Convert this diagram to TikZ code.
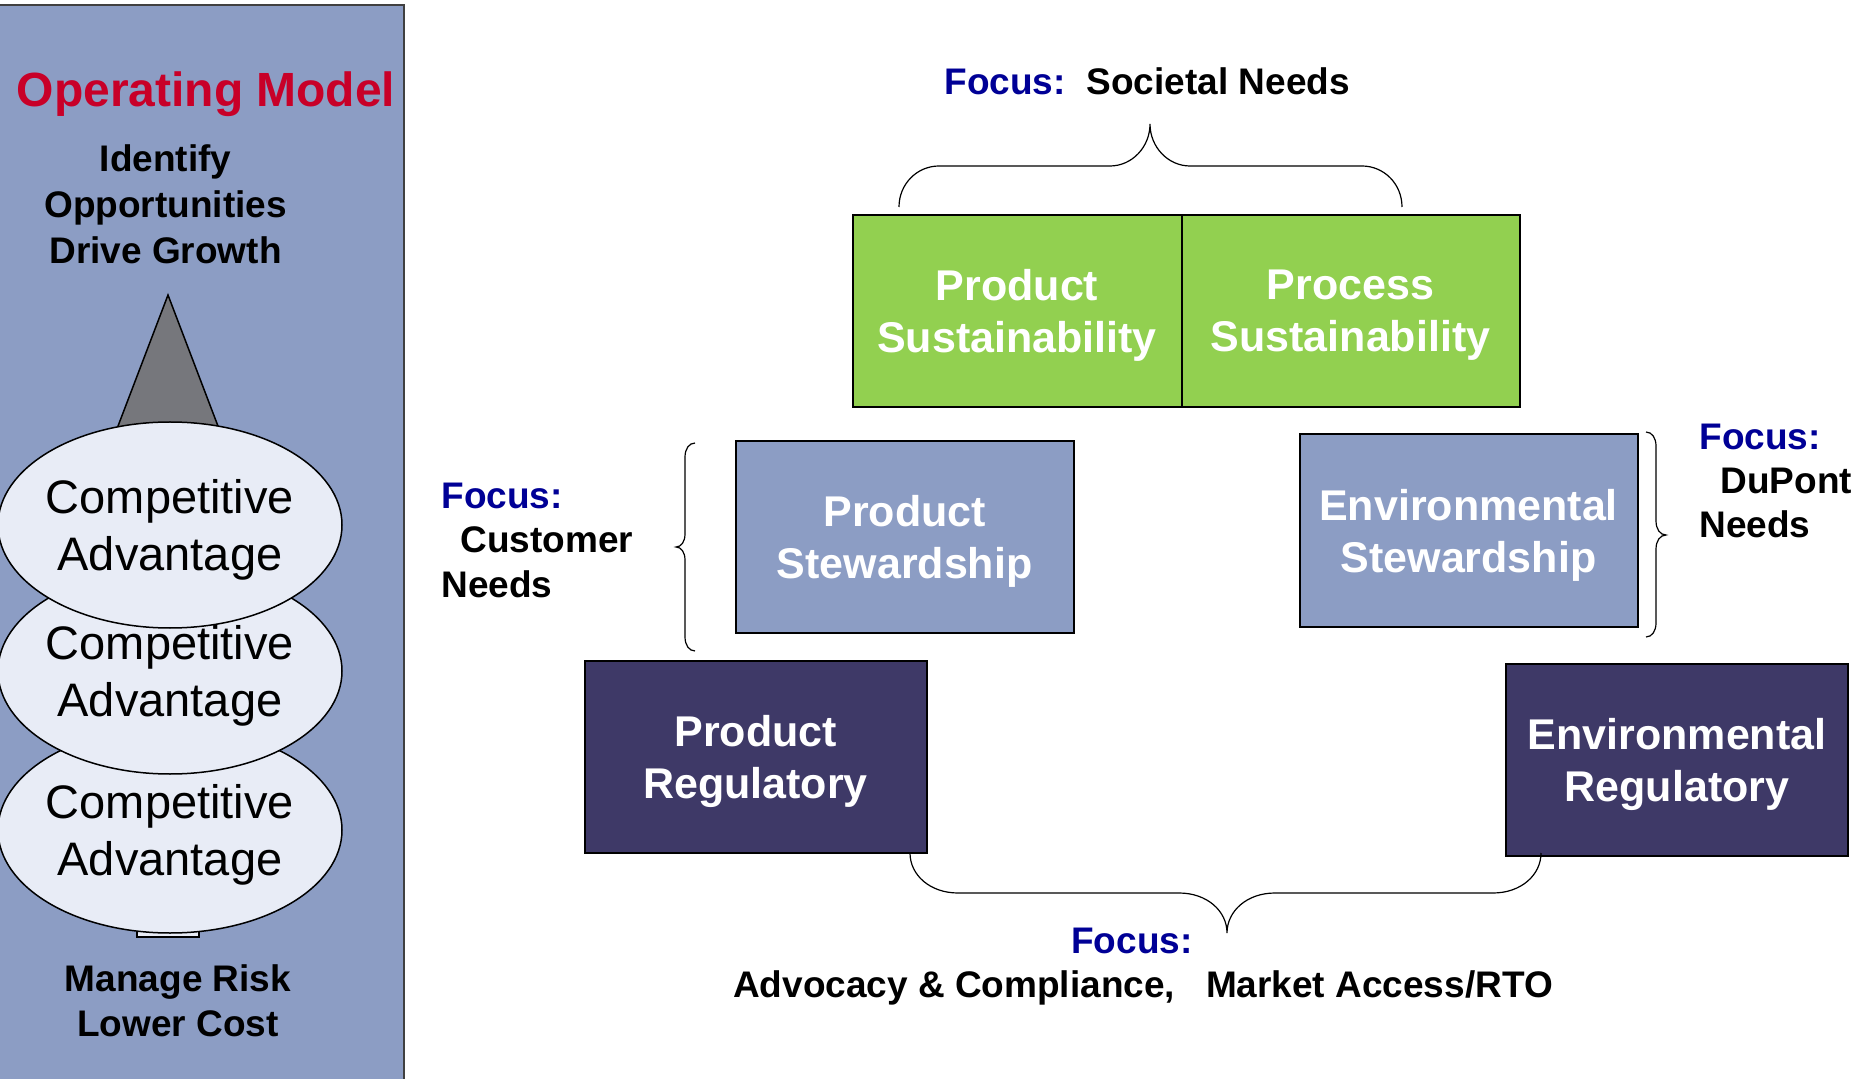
\documentclass[tikz,border=0pt]{standalone}
\usepackage{fontspec}
\setmainfont{Liberation Sans}
\usetikzlibrary{shapes.geometric,positioning}
\definecolor{panelblue}{RGB}{140,157,196}
\definecolor{sustgreen}{RGB}{146,208,80}
\definecolor{regdark}{RGB}{62,57,103}
\definecolor{focusblue}{RGB}{0,0,150}
\definecolor{opred}{RGB}{200,0,40}
\definecolor{ellfill}{RGB}{232,236,246}
\definecolor{trigray}{RGB}{118,119,124}
\begin{document}
\begin{tikzpicture}[x=0.5pt,y=-0.5pt,
    box/.style={draw=black, line width=1pt, outer sep=0pt, minimum width=169pt, minimum height=96pt,
        align=center, text=white, text depth=0pt, font=\bfseries\fontsize{21.5}{26}\selectfont},
    greenbox/.style={box, fill=sustgreen},
    stewbox/.style={box, fill=panelblue},
    regbox/.style={box, fill=regdark},
    advantage/.style={ellipse, draw=black, line width=0.75pt, fill=ellfill, minimum width=172pt,
        minimum height=103pt, inner sep=0pt},
    advtext/.style={inner sep=0pt, align=center, text depth=0pt, font=\fontsize{23.5}{28.5}\selectfont},
    paneltext/.style={inner sep=0pt, align=center, font=\bfseries\fontsize{18.5}{23}\selectfont},
    focuslabel/.style={inner sep=0pt, align=left, font=\bfseries\fontsize{18.5}{22.25}\selectfont},
    brace/.style={line width=0.6pt}]
    \fill[white] (0,0) rectangle (1873,1079);
    \useasboundingbox (0,0) rectangle (1873,1079);

    % left panel
    \draw[fill=panelblue, draw=black!75, line width=1pt] (-10,5) rectangle (404,1090);
    \node[inner sep=0pt, text=opred, font=\bfseries\fontsize{24}{28}\selectfont, anchor=base] (opmodel) at (206,107) {Operating Model};
    \node[paneltext, anchor=base] (growth) at (165.5,264) {Identify\\Opportunities\\Drive Growth};
    \draw[fill=trigray, line width=0.75pt] (168,295) -- (223.3,440) -- (112.7,440) -- cycle;
    \draw[fill=ellfill, line width=0.75pt] (137,910) rectangle (199,937);
    \node[advantage] (adv3) at (170,830) {};
    \node[advtext] at (adv3.center) {Competitive\\Advantage};
    \node[advantage] (adv2) at (170,671) {};
    \node[advtext] at (adv2.center) {Competitive\\Advantage};
    \node[advantage] (adv1) at (170,525) {};
    \node[advtext] at (adv1.center) {Competitive\\Advantage};
    \node[paneltext, font=\bfseries\fontsize{18.5}{22.5}\selectfont, anchor=base] (risk) at (178,1036.5) {Manage Risk\\Lower Cost};

    % boxes
    \node[greenbox, minimum width=164.5pt] (prodsus) at (1017,311) {Product\\Sustainability};
    \node[greenbox, right=0pt of prodsus] (procsus) {Process\\Sustainability};
    \node[stewbox] (prodstew) at (904.6,537) {Product\\Stewardship};
    \node[stewbox] (envstew) at (1468.5,530.5) {Environmental\\Stewardship};
    \node[regbox, minimum width=171pt] (prodreg) at (755.6,757.4) {Product\\Regulatory};
    \node[regbox, minimum width=171pt] (envreg) at (1677,760) {Environmental\\Regulatory};

    % braces
    \draw[brace] (899,207) .. controls (899,184) and (917,166) .. (939,166) -- (1110,166)
        .. controls (1132,166) and (1150,147) .. (1150,124)
        .. controls (1150,147) and (1168,166) .. (1190,166) -- (1362,166)
        .. controls (1384,166) and (1402,184) .. (1402,207);
    \draw[brace] (695,443) .. controls (689,443) and (685,449) .. (685,457) -- (685,534)
        .. controls (685,542) and (681,547) .. (676,547)
        .. controls (681,547) and (685,552) .. (685,560) -- (685,637)
        .. controls (685,645) and (689,651) .. (695,651);
    \draw[brace] (1646,432) .. controls (1652,432) and (1656,438) .. (1656,446) -- (1656,521)
        .. controls (1656,529) and (1660,535) .. (1666,535)
        .. controls (1660,535) and (1656,541) .. (1656,549) -- (1656,623)
        .. controls (1656,631) and (1652,637) .. (1646,637);
    \draw[brace] (910,853) .. controls (910,875) and (930,893) .. (958,893) -- (1179,893)
        .. controls (1207,893) and (1227,911) .. (1227,933)
        .. controls (1227,911) and (1247,893) .. (1275,893) -- (1493,893)
        .. controls (1521,893) and (1541,875) .. (1541,853);

    % focus labels
    \node[focuslabel, anchor=base west] (focustop) at (944,95) {\textcolor{focusblue}{Focus:}\hspace{10.5pt}Societal Needs};
    \node[focuslabel, anchor=base west] (focuscust) at (441,597) {\textcolor{focusblue}{Focus:}\\\hspace*{9.5pt}Customer\\Needs};
    \node[focuslabel, anchor=base west, font=\bfseries\fontsize{18.5}{22}\selectfont] (focusdupont) at (1699,538) {\textcolor{focusblue}{Focus:}\\\hspace*{10.5pt}DuPont\\Needs};
    \node[focuslabel, text=focusblue, anchor=base] (focusbot) at (1132,953) {Focus:};
    \node[focuslabel, anchor=base] (focusbottxt) at (1143,997) {Advocacy \& Compliance,\ \ \ Market Access/RTO};
\end{tikzpicture}
\end{document}
